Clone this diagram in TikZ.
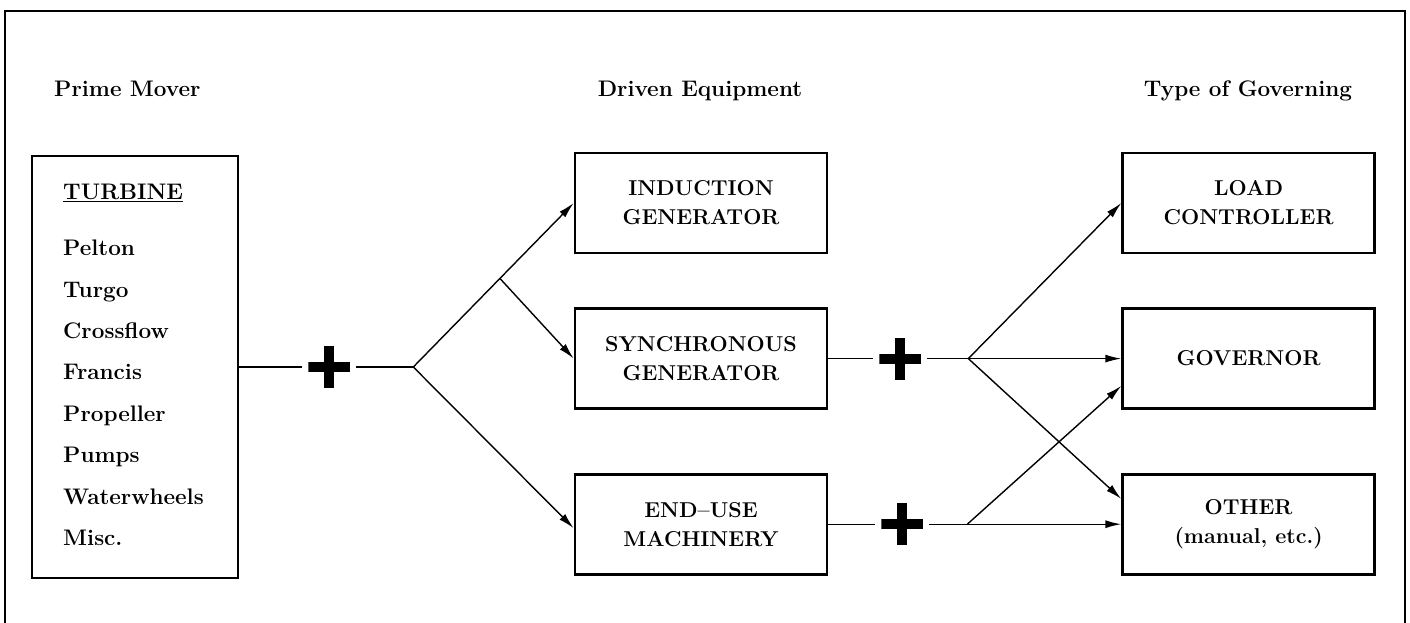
\documentclass[tikz,border=0pt]{standalone}
\usepackage{fontspec}
\usepackage{tikz}
\usetikzlibrary{arrows.meta, positioning, calc}
\tikzset{
  >={Latex[length=16pt, width=8pt]},
  box/.style={draw, line width=2.6pt, minimum width=252pt, minimum height=100pt, inner sep=0pt,
    align=center, font=\bfseries\fontsize{21.5}{29}\selectfont},
  head/.style={font=\bfseries\fontsize{22.5}{27}\selectfont, anchor=base, inner sep=0pt},
  link/.style={line width=1.4pt},
  flow/.style={->, line width=1.4pt},
  plus/.style={minimum size=42pt, inner sep=0pt, outer sep=6pt, path picture={
      \fill ([xshift=-21pt, yshift=-5pt]path picture bounding box.center) rectangle ++(42pt,10pt);
      \fill ([xshift=-5pt, yshift=-21pt]path picture bounding box.center) rectangle ++(10pt,42pt);}},
}
\begin{document}
\begin{tikzpicture}[x=1pt, y=-1pt]
  \useasboundingbox (0,0) rectangle (1410,623);
  \draw[line width=1.5pt] (5,623) -- (5,11) -- (1405,11) -- (1405,623);

  % column headings
  \node[head, anchor=base west] (hprime) at (54,97) {Prime Mover};
  \node[head] (hdriven) at (700,97) {Driven Equipment};
  \node[head] (hgov) at (1248,97) {Type of Governing};

  % prime mover
  \node[draw, line width=2.6pt, minimum width=206pt, minimum height=422pt, inner sep=0pt]
    (tur) at (135,367) {};
  \node[anchor=north west, align=left, inner sep=0pt, font=\bfseries\fontsize{22.5}{41.4}\selectfont]
    (list) at (63,184) {\underline{TURBINE}\\[14.6pt]Pelton\\Turgo\\Crossflow\\Francis\\Propeller\\Pumps\\Waterwheels\\Misc.};

  % driven equipment
  \node[box] (ind) at (701,203) {INDUCTION\\GENERATOR};
  \node[box, below=53pt of ind] (sync) {SYNCHRONOUS\\GENERATOR};
  \node[box, below=63pt of sync] (enduse) {END--USE\\MACHINERY};

  % governing
  \node[box, right=293pt of ind] (load) {LOAD\\CONTROLLER};
  \node[box, right=293pt of sync] (gov) {GOVERNOR};
  \node[box, right=293pt of enduse] (other) {OTHER\\(manual, etc.)};

  % prime mover to driven equipment
  \node[plus] (p1) at ($(tur.east)+(90pt,0)$) {};
  \coordinate (b1) at ($(tur.east)+(174pt,0)$);
  \draw[link] (tur.east) -- (p1);
  \draw[link] (p1) -- (b1);
  \draw[flow] (b1) -- (ind.west);
  \coordinate (b1m) at ($(b1)!0.54!(ind.west)$);
  \draw[flow] (b1m) -- (sync.west);
  \draw[flow] (b1) -- ([yshift=-4pt]enduse.west);

  % driven equipment to governing
  \node[plus] (p2) at ($(sync.east)+(72pt,0)$) {};
  \coordinate (b2) at ($(sync.east)+(140pt,0)$);
  \draw[link] (sync.east) -- (p2);
  \draw[link] (p2) -- (b2);
  \draw[flow] (b2) -- (load.west);
  \draw[flow] (b2) -- (gov.west);
  \draw[flow] (b2) -- ([yshift=-26pt]other.north west);

  \node[plus] (p3) at ($(enduse.east)+(74pt,0)$) {};
  \coordinate (b3) at ($(enduse.east)+(139pt,0)$);
  \draw[link] (enduse.east) -- (p3);
  \draw[link] (p3) -- (b3);
  \draw[flow] (b3) -- (other.west);
  \draw[flow] (b3) -- ([yshift=24pt]gov.south west);
\end{tikzpicture}
\end{document}
